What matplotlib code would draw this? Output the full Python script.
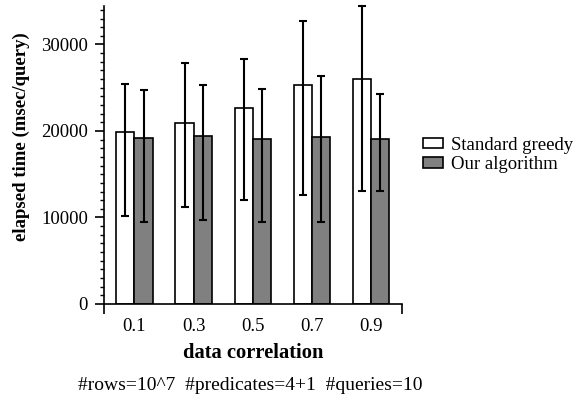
import matplotlib
matplotlib.use("Agg")
import matplotlib.pyplot as plt
from matplotlib.ticker import MultipleLocator
import numpy as np

plt.rcParams['font.family'] = ['Liberation Serif', 'DejaVu Serif']

categories = ["0.1", "0.3", "0.5", "0.7", "0.9"]
greedy_mean = [19900, 20870, 22710, 25290, 25980]
greedy_low = [10200, 11170, 12010, 12590, 13010]
greedy_high = [25400, 27830, 28370, 32760, 34450]
ours_mean = [19200, 19430, 19090, 19360, 19020]
ours_low = [9470, 9660, 9470, 9470, 13010]
ours_high = [24700, 25290, 24860, 26330, 24330]
series_labels = ["Standard greedy", "Our algorithm"]
xlabel = "data correlation"
ylabel = "elapsed time (msec/query)"
footnote = "#rows=10^7  #predicates=4+1  #queries=10"

fig = plt.figure(figsize=(5.86, 4.03), dpi=100)
ax = fig.add_axes([104/586, 1 - 304/403, (401.7 - 104)/586, (304 - 6)/403])

x = np.arange(len(categories))
w = 0.307
fs = 13.5

def draw(xpos, mean, low, high, color, label):
    mean = np.array(mean); low = np.array(low); high = np.array(high)
    ax.bar(xpos, mean, w, color=color, edgecolor='black', linewidth=1.2,
           label=label, zorder=2)
    ax.errorbar(xpos, mean, yerr=[mean - low, high - mean], fmt='none',
                ecolor='black', elinewidth=1.5, capsize=2.8, capthick=1.5,
                zorder=3, clip_on=False)

draw(x - w/2, greedy_mean, greedy_low, greedy_high, 'white', series_labels[0])
draw(x + w/2, ours_mean, ours_low, ours_high, '#808080', series_labels[1])

ax.set_xlim(-0.515, 4.515)
ax.set_ylim(0, 34450)
ax.spines['top'].set_visible(False)
ax.spines['right'].set_visible(False)
ax.spines['left'].set_linewidth(1.2)
ax.spines['bottom'].set_linewidth(1.2)

ax.yaxis.set_major_locator(MultipleLocator(10000))
ax.yaxis.set_minor_locator(MultipleLocator(1000))
ax.tick_params(axis='y', which='major', direction='out', length=6.5, width=1.2,
               labelsize=fs, pad=5)
ax.tick_params(axis='y', which='minor', direction='out', length=3, width=1.0)

ax.set_xticks([-0.515, 4.515])
ax.set_xticklabels(['', ''])
ax.set_xticks(x, minor=True)
ax.set_xticklabels(categories, minor=True)
ax.tick_params(axis='x', which='major', direction='out', length=7, width=1.2)
ax.tick_params(axis='x', which='minor', length=0, labelsize=fs, pad=10)

ax.set_ylabel(ylabel, fontsize=fs, fontweight='bold')
ax.yaxis.set_label_coords(-0.248, 0.562)
fig.text(253/586, 1 - 353/403, xlabel, fontsize=14.8, fontweight='bold',
         ha='center', va='center')
fig.text(250/586, 1 - 386/403, footnote, fontsize=14, ha='center', va='center')

ax.legend(loc='center left', bbox_to_anchor=(423/586, 1 - 155/403),
          bbox_transform=fig.transFigure, frameon=False, fontsize=fs,
          handlelength=1.05, handleheight=0.5, labelspacing=0.15,
          handletextpad=0.45, borderaxespad=0, borderpad=0)

fig.savefig('out.png', dpi=100)
